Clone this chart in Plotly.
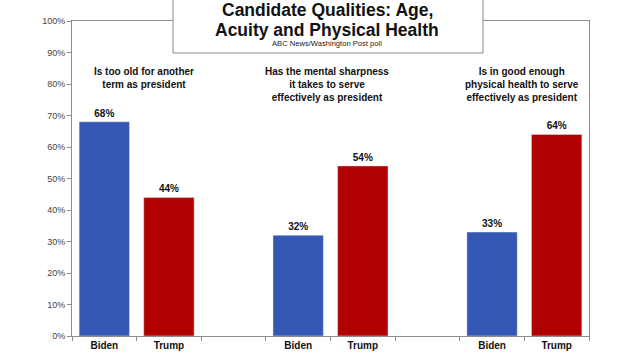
import plotly.graph_objects as go

questions = [
    "Is too old for another<br>term as president",
    "Has the mental sharpness<br>it takes to serve<br>effectively as president",
    "Is in good enough<br>physical health to serve<br>effectively as president",
]
biden = [68, 32, 33]
trump = [44, 54, 64]
biden_cats = ["Biden", "Biden ", "Biden  "]
trump_cats = ["Trump", "Trump ", "Trump  "]
cat_order = ["Biden", "Trump", " ", "Biden ", "Trump ", "  ", "Biden  ", "Trump  "]
cat_labels = ["Biden", "Trump", "", "Biden", "Trump", "", "Biden", "Trump"]
q_pos = [0.62, 3.45, 6.47]
title_lines = ["Candidate Qualities: Age,", "Acuity and Physical Health"]
subtitle = "ABC News/Washington Post poll"

BLUE = "#3457b4"
RED = "#b00000"
FONT = "Liberation Sans, Arial, sans-serif"


def py(p):
    # pixel row -> paper y (plot area spans rows 21..336)
    return (336 - p) / 315


def px(p):
    return (p - 72) / 517


fig = go.Figure()
fig.add_trace(go.Bar(x=biden_cats, y=biden, marker_color=BLUE,
                     text=[f"{v}%" for v in biden], textposition="outside",
                     texttemplate="<b>%{text}</b>",
                     textfont=dict(size=10, color="#111", family=FONT),
                     cliponaxis=False, showlegend=False))
fig.add_trace(go.Bar(x=trump_cats, y=trump, marker_color=RED,
                     text=[f"{v}%" for v in trump], textposition="outside",
                     texttemplate="<b>%{text}</b>",
                     textfont=dict(size=10, color="#111", family=FONT),
                     cliponaxis=False, showlegend=False))

fig.update_layout(
    width=630, height=354,
    margin=dict(l=72, r=41, t=21, b=18),
    paper_bgcolor="white", plot_bgcolor="white",
    barmode="overlay", bargap=0.22,
    font=dict(family=FONT),
    xaxis=dict(type="category", categoryorder="array", categoryarray=cat_order,
               tickmode="array", tickvals=cat_order,
               ticktext=[f"<b>{t}</b>" if t else "" for t in cat_labels],
               showline=True, linecolor="#8c8c8c", linewidth=1, mirror=True,
               ticks="outside", ticklen=4, tickcolor="#8c8c8c", tickson="boundaries",
               tickfont=dict(size=10, color="#111", family=FONT),
               showgrid=False, zeroline=False, automargin=False),
    yaxis=dict(range=[0, 100], dtick=10, ticksuffix="%",
               showline=True, linecolor="#8c8c8c", linewidth=1, mirror=True,
               ticks="outside", ticklen=4, tickcolor="#8c8c8c",
               tickfont=dict(size=9, color="#444", family=FONT),
               showgrid=False, zeroline=False, automargin=False),
)

for q, xp in zip(questions, q_pos):
    fig.add_annotation(x=xp, y=86.3, xref="x", yref="y", text=f"<b>{q}</b>",
                       showarrow=False, yanchor="top", xanchor="center",
                       font=dict(size=10, color="#111", family=FONT))

# title box
fig.add_shape(type="rect", xref="paper", yref="paper",
              x0=px(173), x1=px(483), y0=py(53), y1=py(-3),
              fillcolor="white", line=dict(color="#8c8c8c", width=1), layer="above")
for line, row in zip(title_lines, [10, 29.5]):
    fig.add_annotation(xref="paper", yref="paper", x=px(327), y=py(row),
                       text=f"<b>{line}</b>", showarrow=False,
                       xanchor="center", yanchor="middle",
                       font=dict(size=17.5, color="#111", family=FONT))
fig.add_annotation(xref="paper", yref="paper", x=px(327), y=py(43.5),
                   text=subtitle, showarrow=False, xanchor="center", yanchor="middle",
                   font=dict(size=7.6, color="#222", family=FONT))

fig.write_html("out.html")
